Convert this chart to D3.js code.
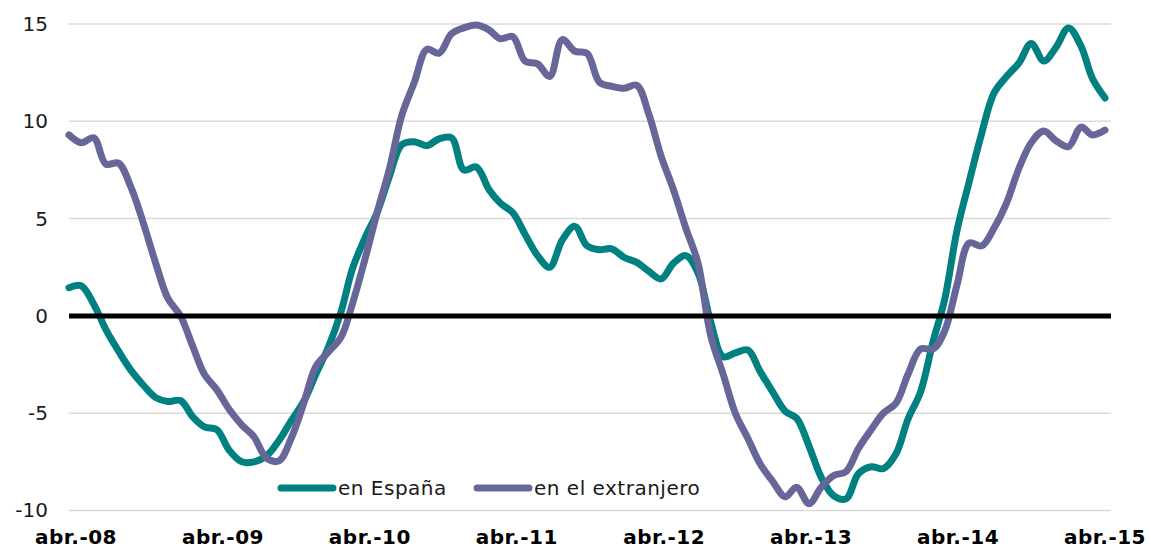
<!DOCTYPE html>
<html>
<head>
<meta charset="utf-8">
<script src="https://cdn.jsdelivr.net/npm/d3@7"></script>
<style>
  body { margin: 0; background: #fff; }
  svg text { font-family: "DejaVu Sans", Verdana, sans-serif; }
</style>
</head>
<body>
<div id="chart"></div>
<script>
// monthly data, abr. 2008 - abr. 2015
var espana = [
    1.45, 1.55, 0.6, -0.7, -1.8, -2.8, -3.55, -4.2, -4.4, -4.35, -5.2, -5.7,
    -5.85, -6.9, -7.5, -7.5, -7.2, -6.4, -5.4, -4.4, -3.0, -1.6, 0.2, 2.4,
    4.0, 5.3, 7.2, 8.8, 8.95, 8.75, 9.1, 9.15, 7.5, 7.65, 6.5, 5.8,
    5.3, 4.2, 3.1, 2.5, 3.9, 4.6, 3.6, 3.4, 3.45, 3.0, 2.75, 2.3,
    1.9, 2.7, 3.1, 2.2, -0.3, -2.1, -1.9, -1.75, -2.85, -3.9, -4.9, -5.25,
    -6.7, -8.3, -9.25, -9.4, -8.1, -7.75, -7.85, -7.1, -5.3, -3.9, -1.3, 0.8,
    4.4, 6.9, 9.4, 11.45, 12.3, 13.0, 14.0, 13.1, 13.8, 14.8, 13.85, 12.2,
    11.2
];
var extranjero = [
    9.3, 8.9, 9.15, 7.8, 7.85, 6.6, 4.8, 2.7, 0.9, 0.0, -1.6, -3.0,
    -3.8, -4.8, -5.6, -6.2, -7.3, -7.45, -6.3, -4.5, -2.6, -1.85, -1.1, 0.6,
    2.9, 5.3, 7.6, 10.3, 12.0, 13.7, 13.5, 14.5, 14.8, 14.95, 14.7, 14.25,
    14.35, 13.1, 12.95, 12.3, 14.2, 13.6, 13.5, 12.0, 11.8, 11.7, 11.85, 10.4,
    8.2, 6.5, 4.5, 2.7, -1.0, -3.0, -5.0, -6.3, -7.6, -8.5, -9.3, -8.8,
    -9.65, -8.8, -8.2, -8.0, -6.8, -5.85, -5.0, -4.5, -3.0, -1.7, -1.7, -0.8,
    1.6, 3.75, 3.6, 4.5, 5.8, 7.6, 8.9, 9.5, 9.0, 8.7, 9.7, 9.3,
    9.55
];
var seriesNames = ["en España", "en el extranjero"];
var seriesColors = ["#008080", "#666699"];
var xTickLabels = ["abr.-08", "abr.-09", "abr.-10", "abr.-11", "abr.-12", "abr.-13", "abr.-14", "abr.-15"];
var yTicks = [15, 10, 5, 0, -5, -10];

var months = d3.timeMonth.range(new Date(2008, 3, 1), new Date(2015, 4, 1));
var tickDates = months.filter(function(d) { return d.getMonth() == 3; });

var width = 1151, height = 549;

var x = d3.scaleTime()
    .domain([months[0], months[months.length - 1]])
    .range([69, 1105]);

// excel spaces the labels a little tighter than the points
var xLabels = x.copy().range([75.5, 1104.5]);

var y = d3.scaleLinear()
    .domain([-10, 15])
    .range([510.5, 24]);

var svg = d3.select("#chart").append("svg")
    .attr("width", width)
    .attr("height", height);

// gridlines
svg.append("g").selectAll("line")
    .data(yTicks.filter(function(d) { return d != 0; }))
    .enter().append("line")
    .attr("x1", 69)
    .attr("x2", 1111)
    .attr("y1", function(d) { return y(d); })
    .attr("y2", function(d) { return y(d); })
    .style("stroke", "#d9d9d9")
    .style("stroke-width", 1.5);

var yAxis = d3.axisLeft(y)
    .tickValues(yTicks)
    .tickFormat(function(d) { return String(d); })
    .tickSize(0)
    .tickPadding(21);
svg.append("g")
    .attr("class", "y axis")
    .attr("transform", "translate(69,0)")
    .call(yAxis)
    .call(function(g) { g.select(".domain").remove(); });

var xAxis = d3.axisBottom(xLabels)
    .tickValues(tickDates)
    .tickFormat(function(d, i) { return xTickLabels[i]; })
    .tickSize(0)
    .tickPadding(0);
svg.append("g")
    .attr("class", "x axis")
    .attr("transform", "translate(0,529)")
    .call(xAxis)
    .call(function(g) { g.select(".domain").remove(); });

svg.selectAll(".y.axis text")
    .style("font-size", "20px")
    .style("fill", "#1a1a1a");

svg.selectAll(".x.axis text")
    .attr("dy", "0.76em")
    .style("font-size", "20px")
    .style("font-weight", "bold")
    .style("letter-spacing", "0.5px")
    .style("fill", "#000");

var line = d3.line()
    .x(function(d, i) { return x(months[i]); })
    .y(function(d) { return y(d); })
    .curve(d3.curveCatmullRom.alpha(0.5));

[espana, extranjero].forEach(function(values, k) {
    svg.append("path")
        .datum(values)
        .attr("d", line)
        .style("fill", "none")
        .style("stroke", seriesColors[k])
        .style("stroke-width", 7)
        .style("stroke-linejoin", "round")
        .style("stroke-linecap", "round");
});

// zero line on top
svg.append("line")
    .attr("x1", 69)
    .attr("x2", 1111)
    .attr("y1", y(0))
    .attr("y2", y(0))
    .style("stroke", "#000")
    .style("stroke-width", 5);

// legend
var legendX = [281, 477];
var legend = svg.selectAll(".legend")
    .data(seriesNames)
    .enter().append("g")
    .attr("class", "legend")
    .attr("transform", function(d, i) { return "translate(" + legendX[i] + ",488)"; });

legend.append("line")
    .attr("x1", 0)
    .attr("x2", 52)
    .style("stroke", function(d, i) { return seriesColors[i]; })
    .style("stroke-width", 7)
    .style("stroke-linecap", "round");

legend.append("text")
    .attr("x", 57)
    .attr("y", 7)
    .style("font-size", "20px")
    .style("letter-spacing", "0.5px")
    .style("fill", "#1a1a1a")
    .text(function(d) { return d; });
</script>
</body>
</html>
